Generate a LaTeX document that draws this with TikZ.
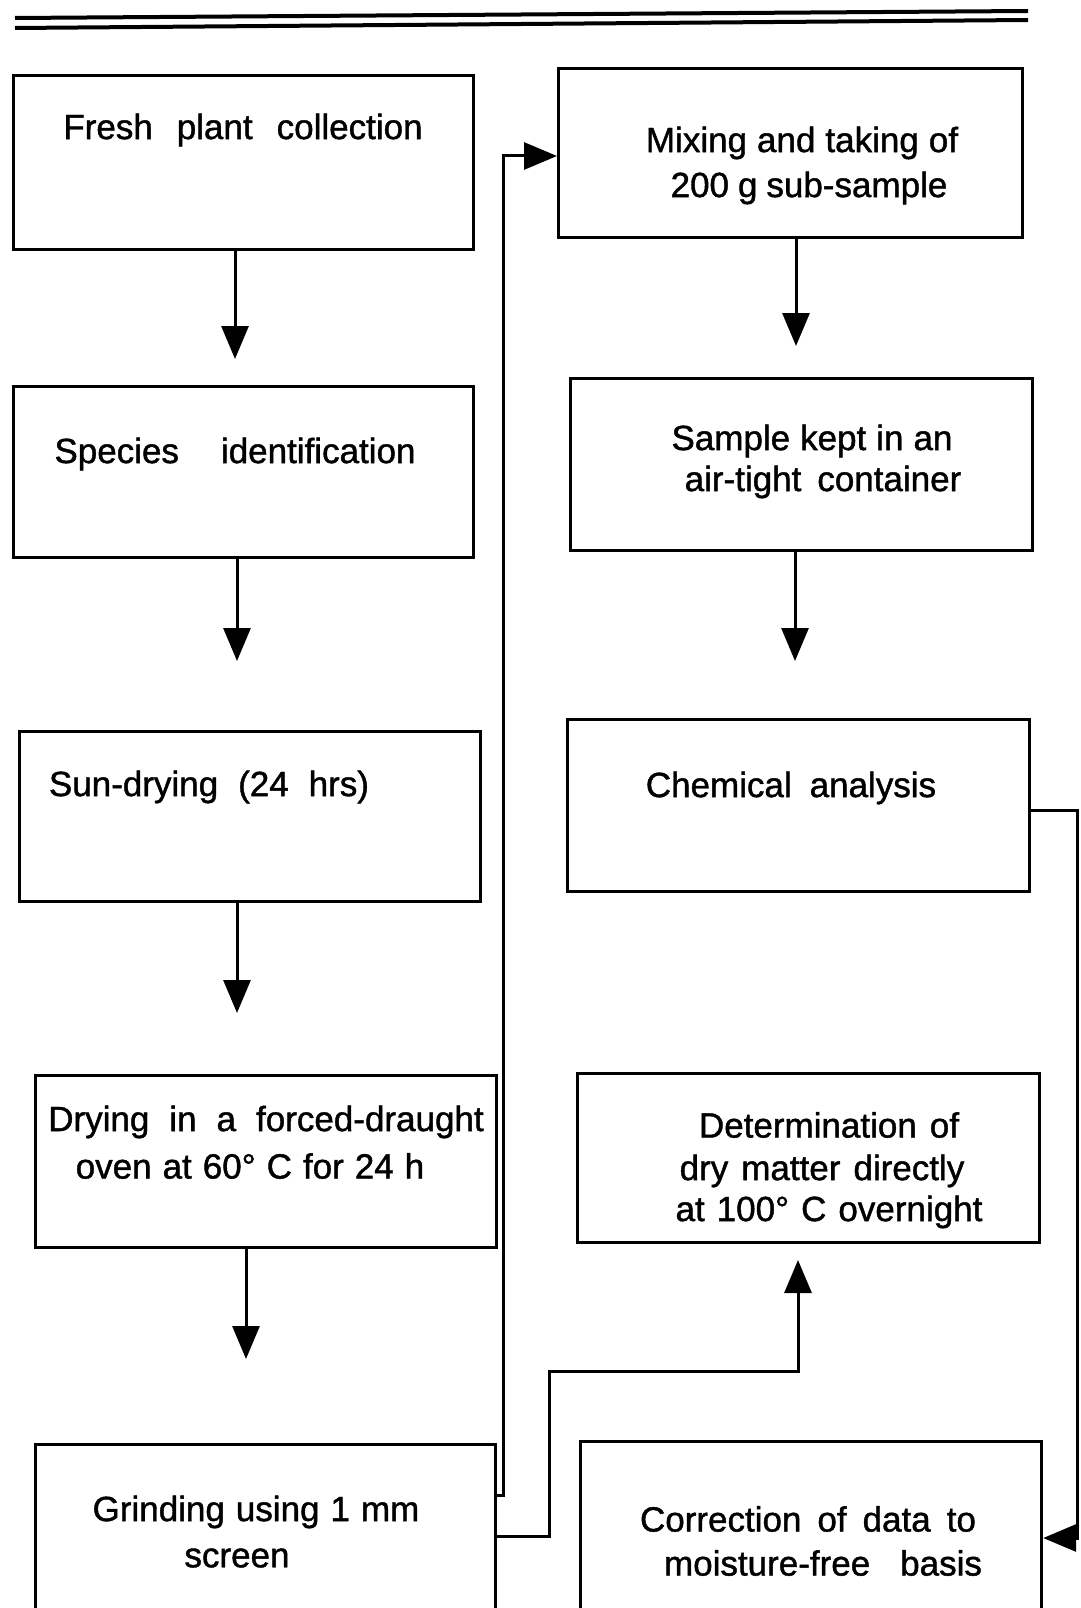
\documentclass[tikz,border=0pt]{standalone}
\usepackage{fontspec}
\setmainfont{Liberation Sans}[BoldFont=Liberation Sans, BoldFeatures={FakeBold=1.2}]
\usetikzlibrary{arrows.meta}
\newcommand{\tf}{\fontsize{35}{44}\selectfont\bfseries\spaceskip=13pt plus 2pt minus 1pt\relax}
\tikzset{
  box/.style={draw, line width=3.2pt, anchor=north west, inner sep=0pt},
  txt/.style={font=\tf, inner sep=0pt},
  arr/.style={line width=3pt, -{Triangle[length=33pt,width=27pt]}},
}
\begin{document}
\begin{tikzpicture}[x=1pt,y=-1pt]
\useasboundingbox (0,0) rectangle (1080,1608);
\clip (0,0) rectangle (1080,1608);
% top double rule
\draw[line width=4pt] (15,18) -- (1028,11);
\draw[line width=4pt] (15,28) -- (1028,20);
% left column
\node[box, minimum width=460pt, minimum height=174pt] (fresh) at (12,74) {};
\node[box, minimum width=460pt, minimum height=171pt] (species) at (12,385) {};
\node[box, minimum width=461pt, minimum height=170pt] (sun) at (18,730) {};
\node[box, minimum width=461pt, minimum height=172pt] (oven) at (34,1074) {};
\node[box, minimum width=460pt, minimum height=185pt] (grind) at (34,1443) {};
% right column
\node[box, minimum width=464pt, minimum height=169pt] (mix) at (557,67) {};
\node[box, minimum width=462pt, minimum height=172pt] (sample) at (569,377) {};
\node[box, minimum width=462pt, minimum height=172pt] (chem) at (566,718) {};
\node[box, minimum width=462pt, minimum height=169pt] (det) at (576,1072) {};
\node[box, minimum width=461pt, minimum height=190pt] (corr) at (579,1440) {};
% texts
\node[txt] (fresh-t) at (243,130) {\spaceskip=24pt Fresh plant collection};
\node[txt] (species-t) at (235,454) {\spaceskip=42pt Species identification};
\node[txt] (sun-t) at (209,787) {\spaceskip=20pt Sun-drying (24 hrs)};
\node[txt] (oven-t1) at (266,1122) {\spaceskip=20pt Drying in a forced-draught};
\node[txt] (oven-t2) at (250,1166) {\spaceskip=11pt oven at 60° C for 24 h};
\node[txt] (grind-t1) at (256,1512) {\spaceskip=11pt Grinding using 1 mm};
\node[txt] (grind-t2) at (237,1558) {screen};
\node[txt] (mix-t1) at (802,143) {\spaceskip=10pt Mixing and taking of};
\node[txt] (mix-t2) at (809,188) {\spaceskip=9pt 200 g sub-sample};
\node[txt] (sample-t1) at (812,441) {\spaceskip=10pt Sample kept in an};
\node[txt] (sample-t2) at (823,482) {\spaceskip=16pt air-tight container};
\node[txt] (chem-t) at (791,788) {\spaceskip=18pt Chemical analysis};
\node[txt] (det-t1) at (829,1125) {Determination of};
\node[txt] (det-t2) at (822,1171) {dry matter directly};
\node[txt] (det-t3) at (829,1212) {\spaceskip=12pt at 100° C overnight};
\node[txt] (corr-t1) at (808,1519) {\spaceskip=16pt Correction of data to};
\node[txt] (corr-t2) at (823,1563) {\spaceskip=30pt moisture-free basis};
% arrow tips
\coordinate (t1) at (235,359);
\coordinate (t2) at (237,661);
\coordinate (t3) at (237,1013);
\coordinate (t4) at (246,1359);
\coordinate (t5) at (796,346);
\coordinate (t6) at (795,661);
\coordinate (t7) at (798,1260);
\draw[arr] (t1 |- fresh.south) -- (t1);
\draw[arr] (t2 |- species.south) -- (t2);
\draw[arr] (t3 |- sun.south) -- (t3);
\draw[arr] (t4 |- oven.south) -- (t4);
\draw[arr] (t5 |- mix.south) -- (t5);
\draw[arr] (t6 |- sample.south) -- (t6);
% grinding -> mixing
\coordinate (g1) at (494,1495);
\draw[arr] (g1) -| (503,156) -- (mix.west |- 0,156);
% grinding -> determination
\coordinate (g2) at (494,1536);
\draw[arr] (g2) -| (549,1371) -| (t7);
% chemical analysis -> correction
\coordinate (c1) at (1028,810);
\coordinate (c2) at (1077,1538);
\draw[arr] (c1) -| (c2) -- (corr.east |- c2);
\end{tikzpicture}
\end{document}
